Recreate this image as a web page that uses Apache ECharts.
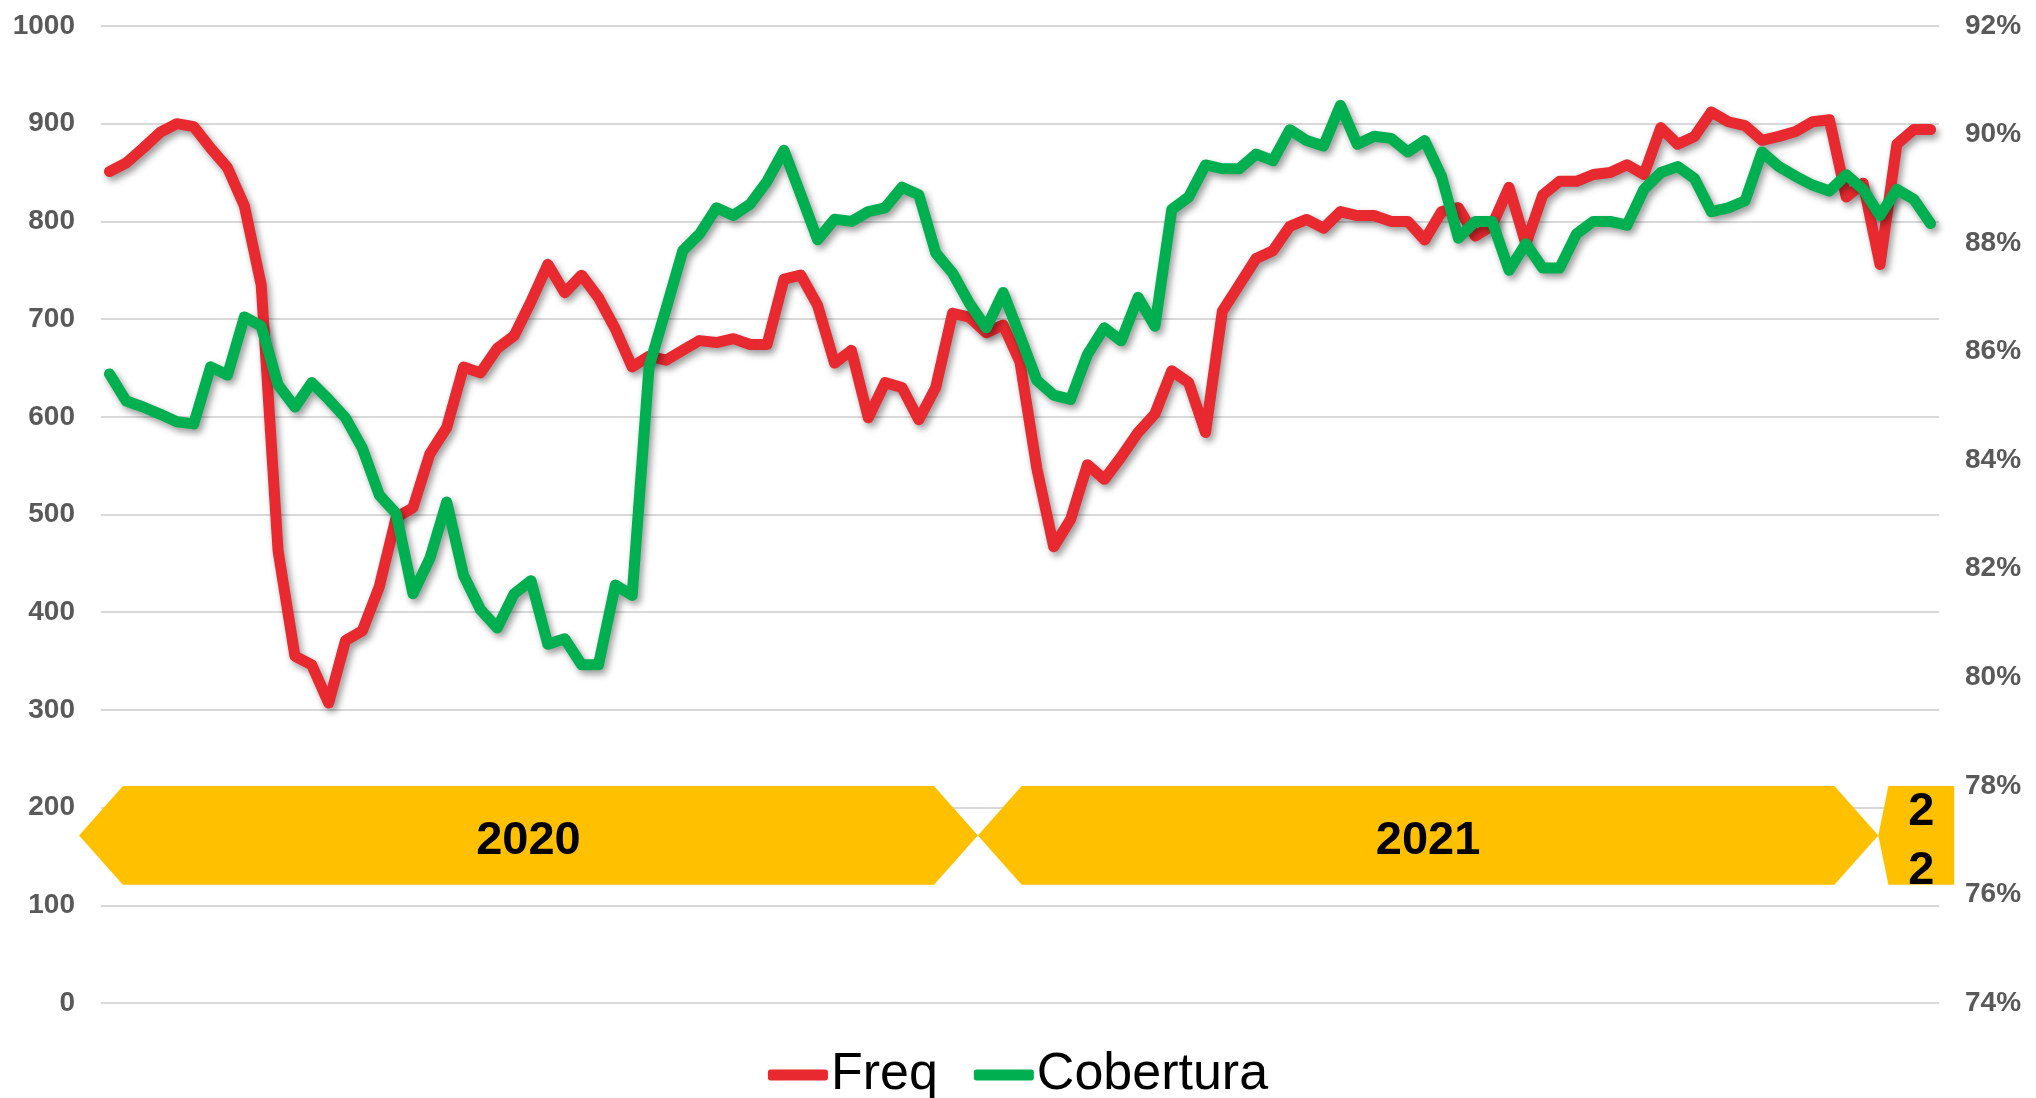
<!DOCTYPE html>
<html>
<head>
<meta charset="utf-8">
<script src="https://cdn.jsdelivr.net/npm/echarts@6/dist/echarts.min.js"></script>
<style>
html,body{margin:0;padding:0;background:#fff;}
#chart{width:2036px;height:1098px;}
</style>
</head>
<body>
<div id="chart"></div>
<script>
// ---- DATA ----
// Weekly categories (2020 W1 .. 2022 W4)
const weeks = [];
for (let w = 1; w <= 53; w++) weeks.push('2020-S' + w);
for (let w = 1; w <= 52; w++) weeks.push('2021-S' + w);
for (let w = 1; w <= 4; w++) weeks.push('2022-S' + w);

const freq = [
  851, 860, 875, 891, 900, 897, 875, 855, 816, 735,
  463, 355, 346, 307, 371, 381, 426, 497, 507, 562,
  589, 651, 645, 670, 683, 718, 756, 727, 745, 722,
  690, 651, 662, 658, 668, 678, 676, 680, 674, 674,
  741, 745, 714, 655, 668, 599, 635, 630, 597, 630,
  706, 702, 686, 694, 656, 547, 467, 495, 551, 536,
  559, 584, 603, 647, 635, 584, 708, 735, 762, 770,
  795, 802, 793, 810, 806, 806, 800, 800, 781, 810,
  814, 785, 796, 835, 777, 827, 841, 841, 848, 850,
  858, 848, 896, 879, 887, 912, 902, 898, 883, 887,
  892, 902, 904, 825, 839, 756, 879, 894, 894
];

const cobertura = [
  85.59, 85.09, 84.98, 84.85, 84.71, 84.67, 85.72, 85.57, 86.64, 86.47,
  85.39, 84.98, 85.43, 85.12, 84.78, 84.22, 83.36, 83.02, 81.54, 82.19,
  83.23, 81.88, 81.25, 80.91, 81.54, 81.78, 80.61, 80.71, 80.23, 80.23,
  81.70, 81.51, 85.72, 86.78, 87.86, 88.17, 88.65, 88.51, 88.72, 89.14,
  89.71, 88.89, 88.06, 88.44, 88.40, 88.58, 88.65, 89.03, 88.89, 87.82,
  87.45, 86.89, 86.44, 87.09, 86.29, 85.47, 85.20, 85.12, 85.95, 86.44,
  86.20, 87.00, 86.47, 88.62, 88.85, 89.44, 89.37, 89.37, 89.64, 89.52,
  90.09, 89.89, 89.79, 90.54, 89.82, 89.97, 89.93, 89.68, 89.89, 89.23,
  88.09, 88.40, 88.40, 87.50, 87.99, 87.54, 87.54, 88.17, 88.40, 88.40,
  88.33, 88.99, 89.30, 89.41, 89.19, 88.58, 88.65, 88.78, 89.68, 89.41,
  89.23, 89.07, 88.96, 89.26, 88.99, 88.51, 88.99, 88.81, 88.36
];

// Year banners (span on the week axis, in week-band units)
const yearLabels = ['2020', '2021', '2\n2'];
const yearFrom = [-1.3, 52.0, 105.4];
const yearTo = [52.0, 105.4, 109.9];

// ---- CHART ----
const FONT = '"Liberation Sans", Arial, sans-serif';
const chart = echarts.init(document.getElementById('chart'));

function renderBanner(params, api) {
  const k = params.dataIndex;
  const c0 = api.coord([0, 0]);
  const w = api.size([1, 0])[0];
  const bx = b => c0[0] - w / 2 + b * w;
  const yTop = api.coord([0, 222])[1];
  const yBot = api.coord([0, 121])[1];
  const yMid = (yTop + yBot) / 2;
  const x0 = bx(yearFrom[k]);
  const x1 = bx(yearTo[k]);
  let points, tx;
  if (k < 2) {
    const d = 2.6 * w;
    points = [[x0, yMid], [x0 + d, yTop], [x1 - d, yTop], [x1, yMid], [x1 - d, yBot], [x0 + d, yBot]];
    tx = (x0 + x1) / 2;
  } else {
    const d = 0.6 * w;
    points = [[x0 + d, yTop], [x1, yTop], [x1, yBot], [x0 + d, yBot], [x0, yMid]];
    tx = (x0 + d + x1) / 2;
  }
  return {
    type: 'group',
    children: [
      { type: 'polygon', shape: { points: points }, style: { fill: '#FFC000' } },
      {
        type: 'text',
        style: {
          text: yearLabels[k],
          x: tx,
          y: yMid + 6,
          align: 'center',
          verticalAlign: 'middle',
          fontSize: 47,
          fontWeight: 'bold',
          fontFamily: FONT,
          lineHeight: 59,
          fill: '#000'
        }
      }
    ]
  };
}

const option = {
  animation: false,
  backgroundColor: '#ffffff',
  grid: { left: 101, right: 97, top: 26, bottom: 95, containLabel: false },
  legend: {
    data: ['Freq', 'Cobertura'],
    left: 'center',
    top: 1044,
    icon: 'roundRect',
    itemWidth: 60,
    itemHeight: 11,
    itemGap: 36,
    textStyle: { fontSize: 52, color: '#000', fontFamily: FONT, padding: [0, 0, 0, -2] }
  },
  xAxis: {
    type: 'category',
    data: weeks,
    boundaryGap: true,
    axisLine: { show: false },
    axisTick: { show: false },
    axisLabel: { show: false },
    splitLine: { show: false }
  },
  yAxis: [
    {
      type: 'value',
      min: 0, max: 1000, interval: 100,
      axisLine: { show: false },
      axisTick: { show: false },
      axisLabel: {
        formatter: function (v) { return String(v); },
        fontSize: 28, fontWeight: 'bold', color: '#595959', fontFamily: FONT, margin: 26
      },
      splitLine: { lineStyle: { color: '#D9D9D9', width: 2 } }
    },
    {
      type: 'value',
      position: 'right',
      min: 74, max: 92, interval: 2,
      axisLine: { show: false },
      axisTick: { show: false },
      axisLabel: { formatter: '{value}%', fontSize: 28, fontWeight: 'bold', color: '#595959', fontFamily: FONT, margin: 26 },
      splitLine: { show: false }
    }
  ],
  series: [
    {
      type: 'custom',
      name: 'years',
      xAxisIndex: 0,
      yAxisIndex: 0,
      clip: false,
      silent: true,
      z: 1,
      renderItem: renderBanner,
      encode: { x: 0, y: 1 },
      data: yearLabels.map(function (l, k) { return [k, 171]; })
    },
    {
      name: 'Freq',
      type: 'line',
      yAxisIndex: 0,
      data: freq,
      symbol: 'none',
      z: 3,
      color: '#E8292F',
      lineStyle: {
        width: 11, color: '#E8292F', cap: 'round', join: 'round',
        shadowColor: 'rgba(0,0,0,0.4)', shadowBlur: 7, shadowOffsetX: 3, shadowOffsetY: 4
      }
    },
    {
      name: 'Cobertura',
      type: 'line',
      yAxisIndex: 1,
      data: cobertura,
      symbol: 'none',
      z: 4,
      color: '#00B050',
      lineStyle: {
        width: 11, color: '#00B050', cap: 'round', join: 'round',
        shadowColor: 'rgba(0,0,0,0.4)', shadowBlur: 7, shadowOffsetX: 3, shadowOffsetY: 4
      }
    }
  ]
};
chart.setOption(option);
</script>
</body>
</html>
